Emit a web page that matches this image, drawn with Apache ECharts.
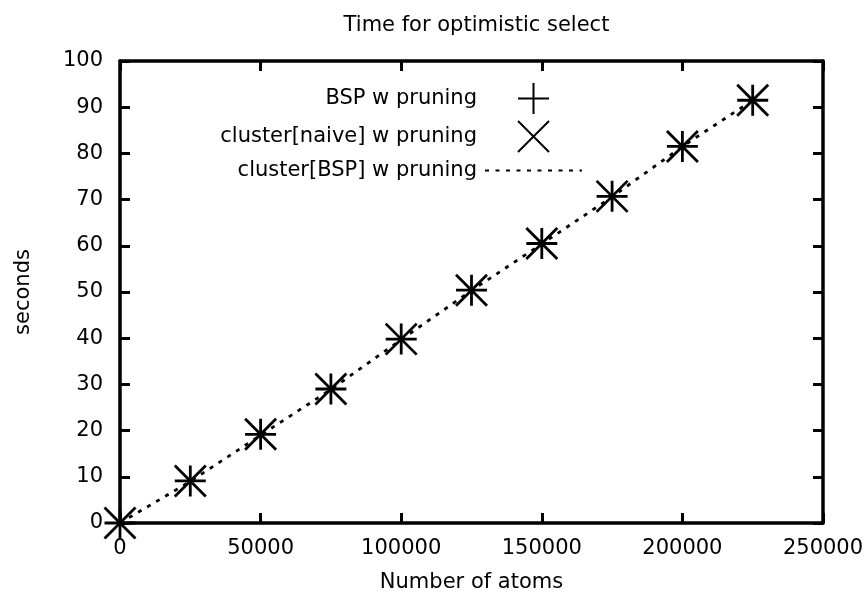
<!DOCTYPE html>
<html>
<head>
<meta charset="utf-8">
<script src="https://cdn.jsdelivr.net/npm/echarts@6/dist/echarts.min.js"></script>
<style>html,body{margin:0;padding:0;background:#fff}#c{width:868px;height:594px}</style>
</head>
<body>
<div id="c"></div>
<script>
const atoms = [0, 25000, 50000, 75000, 100000, 125000, 150000, 175000, 200000, 225000];
const bspPruning = [0, 9.1, 19.2, 29.0, 39.8, 50.4, 60.5, 70.7, 81.5, 91.5];
const naivePruning = [0, 9.1, 19.2, 29.0, 39.8, 50.4, 60.5, 70.7, 81.5, 91.5];
const clusterBspPruning = [0, 9.0, 19.0, 28.9, 39.7, 50.3, 60.4, 70.6, 81.5, 91.5];
const seriesNames = ['BSP w pruning', 'cluster[naive] w pruning', 'cluster[BSP] w pruning'];

const FONT = 'DejaVu Sans';
const FS = 21;
const plusPath = 'path://M0,15L30,15M15,0L15,30';
const crossPath = 'path://M0,0L30,30M30,0L0,30';
const blankPath = 'path://M0,0L10,0L10,10L0,10Z';

function pairs(xs, ys) { return xs.map((x, i) => [x, ys[i]]); }

const axisLine = { show: true, onZero: false, lineStyle: { color: '#000', width: 3.5 } };
const axisTick = { show: true, inside: true, length: 10, lineStyle: { color: '#000', width: 3 } };
const markerStyle = { color: 'rgba(0,0,0,0)', borderColor: '#000', borderWidth: 2.8, opacity: 1 };

const chart = echarts.init(document.getElementById('c'), null, { renderer: 'canvas' });
chart.setOption({
  animation: false,
  backgroundColor: '#fff',
  textStyle: { fontFamily: FONT },
  title: {
    text: 'Time for optimistic select',
    left: 471.5, top: 10, textAlign: 'center',
    textStyle: { fontFamily: FONT, fontSize: FS, fontWeight: 'normal', color: '#000' }
  },
  legend: {
    orient: 'vertical',
    align: 'right',
    right: 280, top: 77,
    itemWidth: 97, itemHeight: 31, itemGap: 5,
    textStyle: { fontFamily: FONT, fontSize: FS, color: '#000', padding: [0, 3, 0, 0] },
    data: seriesNames
  },
  grid: { left: 120, right: 45, top: 61, bottom: 71, containLabel: false, outerBoundsMode: 'none' },
  xAxis: [
    {
      type: 'value', position: 'bottom', min: 0, max: 250000, interval: 50000,
      name: 'Number of atoms', nameLocation: 'middle', nameGap: 49,
      nameTextStyle: { fontFamily: FONT, fontSize: FS, color: '#000' },
      axisLine, axisTick,
      axisLabel: { color: '#000', fontFamily: FONT, fontSize: FS, margin: 15, showMaxLabel: true,
        formatter: v => String(v) },
      splitLine: { show: false }
    },
    {
      type: 'value', position: 'top', min: 0, max: 250000, interval: 50000,
      axisLine, axisTick, axisLabel: { show: false }, splitLine: { show: false }
    }
  ],
  yAxis: [
    {
      type: 'value', position: 'left', min: 0, max: 100, interval: 10,
      name: 'seconds', nameLocation: 'middle', nameGap: 86, nameRotate: 90,
      nameTextStyle: { fontFamily: FONT, fontSize: FS, color: '#000' },
      axisLine, axisTick,
      axisLabel: { color: '#000', fontFamily: FONT, fontSize: FS, margin: 17 },
      splitLine: { show: false }
    },
    {
      type: 'value', position: 'right', min: 0, max: 100, interval: 10,
      axisLine, axisTick, axisLabel: { show: false }, splitLine: { show: false }
    }
  ],
  series: [
    {
      name: seriesNames[0], type: 'scatter', symbol: plusPath, symbolSize: 31,
      itemStyle: markerStyle, emphasis: { disabled: true },
      data: pairs(atoms, bspPruning), z: 3
    },
    {
      name: seriesNames[1], type: 'scatter', symbol: crossPath, symbolSize: 31,
      itemStyle: markerStyle, emphasis: { disabled: true },
      data: pairs(atoms, naivePruning), z: 3
    },
    {
      name: seriesNames[2], type: 'line', symbol: blankPath, showSymbol: false,
      itemStyle: { color: 'rgba(0,0,0,0)', borderColor: 'rgba(0,0,0,0)', borderWidth: 0 },
      lineStyle: { color: '#000', width: 2.8, type: [4, 6.5] },
      emphasis: { disabled: true },
      data: pairs(atoms, clusterBspPruning), z: 4
    }
  ]
});
</script>
</body>
</html>
